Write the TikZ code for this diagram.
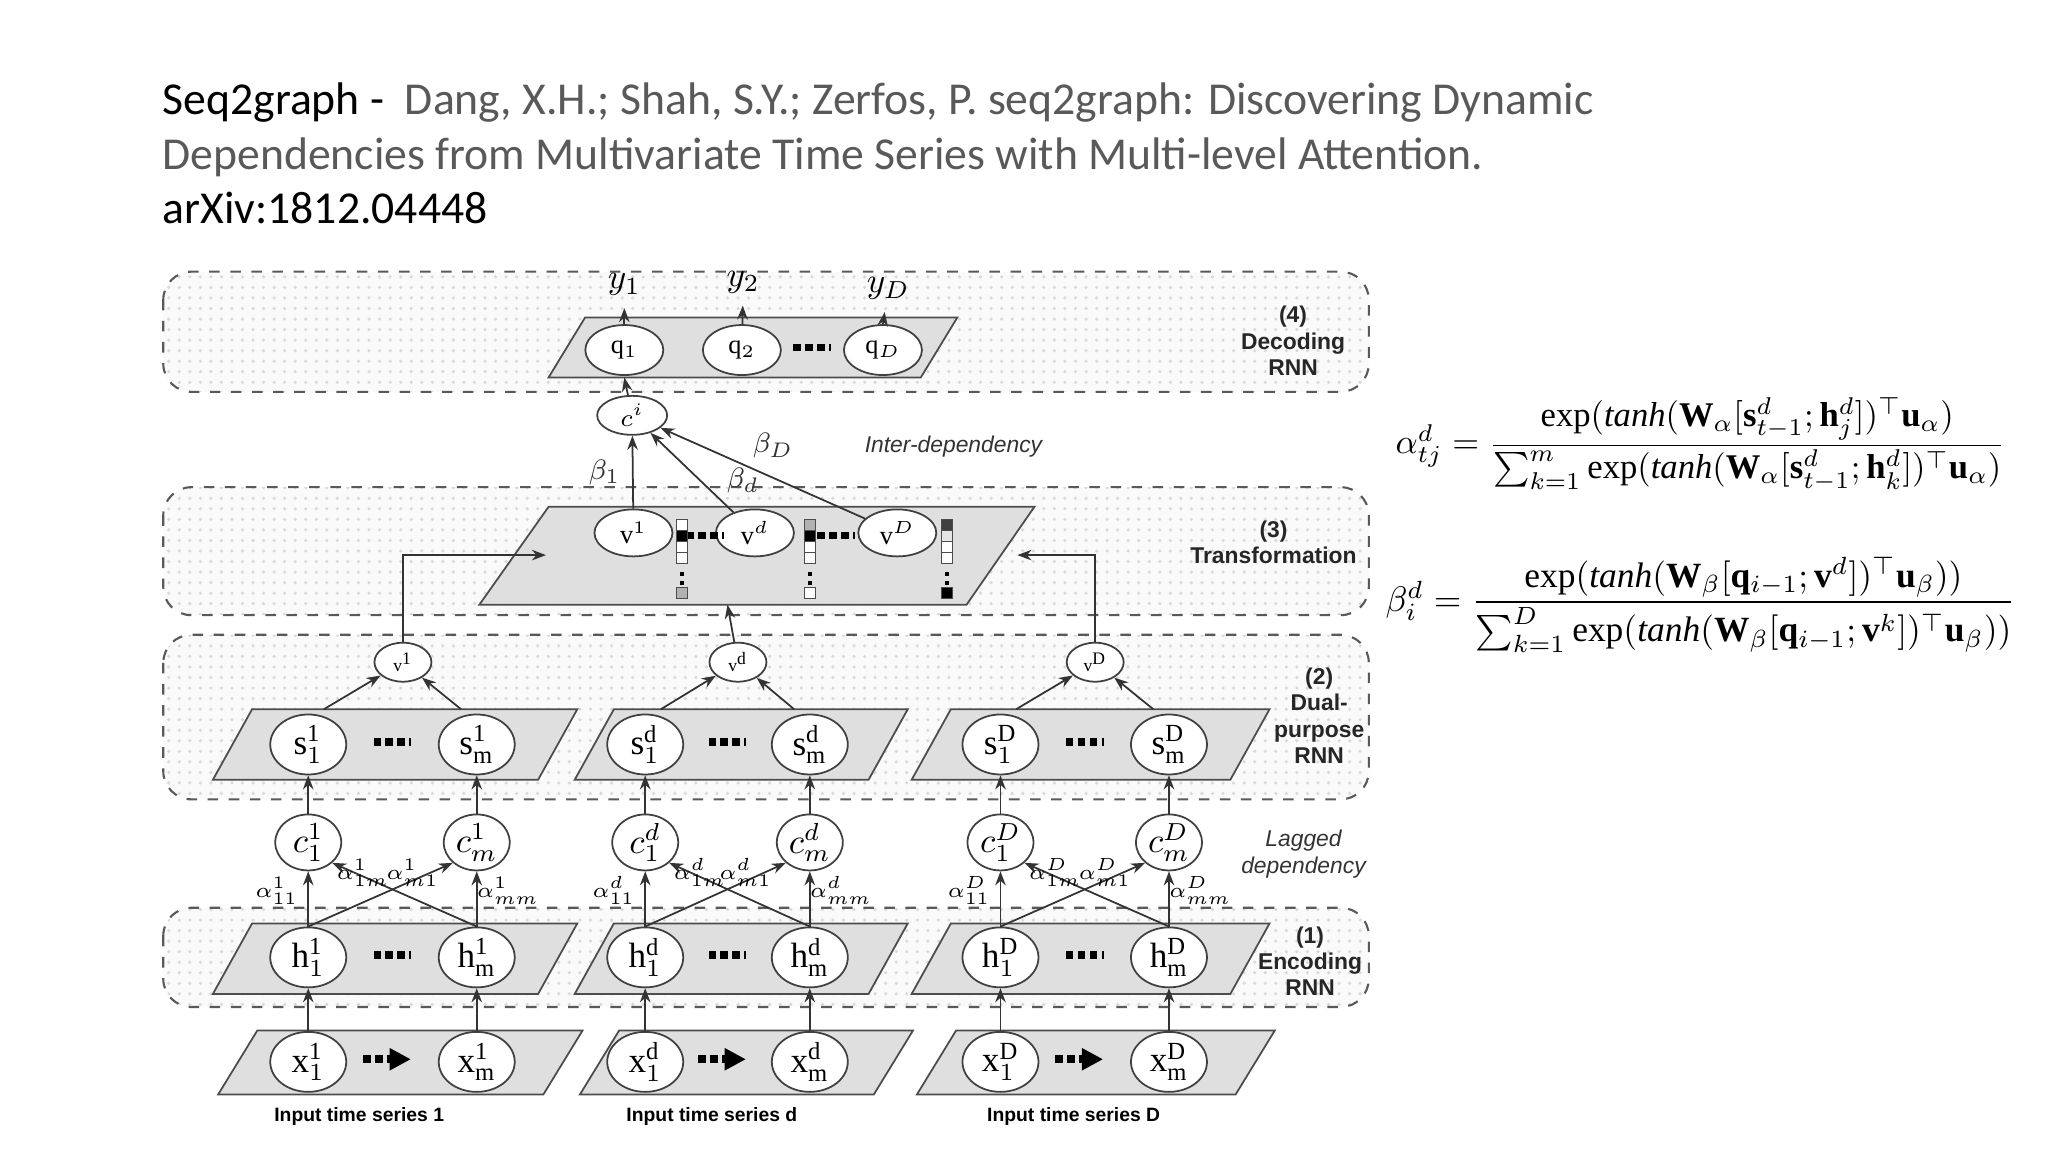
\documentclass[tikz,border=0pt]{standalone}
\usepackage{fontspec}
\usepackage{amsmath,amssymb}
\setmainfont{Liberation Serif}
\newfontfamily\titlefont{Carlito}
\setsansfont{Liberation Sans}
\usetikzlibrary{patterns,arrows.meta,shapes.geometric}
\newcommand\mydots{\rule{2.2pt}{2.2pt}\hspace{1.2pt}\rule{2.2pt}{2.2pt}\hspace{1.2pt}\rule{2.2pt}{2.2pt}\hspace{1.2pt}\rule{0.6pt}{2.2pt}}
\begin{document}
\begin{tikzpicture}[x=0.01306cm,y=-0.01306cm,
  layerbox/.style={draw=gray!70!black,dashed,rounded corners=8pt,line width=0.6pt,
     preaction={fill=gray!4},pattern=dots,pattern color=gray!30},
  plate/.style={draw=gray!60!black,fill=gray!25,line width=0.5pt},
  unit/.style={ellipse,draw=gray!50!black,fill=white,line width=0.5pt,minimum width=0.76cm,minimum height=0.6cm,inner sep=0pt,font=\fontsize{10}{10}\selectfont},
  cunit/.style={unit,minimum width=0.66cm,minimum height=0.56cm},
  sunit/.style={unit,minimum width=0.57cm,minimum height=0.39cm,font=\fontsize{5}{5}\selectfont},
  vunit/.style={unit,minimum width=0.78cm,minimum height=0.47cm,font=\fontsize{7.5}{7.5}\selectfont},
  qunit/.style={unit,minimum width=0.78cm,minimum height=0.5cm,font=\fontsize{7.5}{7.5}\selectfont},
  arr/.style={-{Stealth[length=4pt,width=3pt]},line width=0.5pt,black!80},
  lab/.style={font=\sffamily\bfseries\fontsize{6.5}{7.5}\selectfont,align=center,text=black!85},
  ilab/.style={font=\sffamily\itshape\fontsize{6.5}{7.5}\selectfont,align=center,text=black!80},
  alab/.style={font=\fontsize{6}{6}\selectfont,inner sep=1pt},
  cell/.style={draw=black!70,line width=0.3pt,minimum width=0.105cm,minimum height=0.11cm,inner sep=0pt}
]
\useasboundingbox (0,0) rectangle (1568,882);
% title
\node[anchor=north west,align=left,font=\titlefont\fontsize{13}{15.5}\selectfont,inner sep=0pt] (title) at (124,63)
 {\textcolor{black}{Seq2graph -}\textcolor{black!65}{\ \ Dang, X.H.; Shah, S.Y.; Zerfos, P. seq2graph: Discovering Dynamic}\\
  \textcolor{black!65}{Dependencies from Multivariate Time Series with Multi-level Attention.}\\
  \textcolor{black}{arXiv:1812.04448}};
% layer boxes
\path[layerbox] (125,208) rectangle (1048,300);
\path[layerbox] (125,373) rectangle (1048,471);
\path[layerbox] (125,486) rectangle (1048,612);
\path[layerbox] (125,695) rectangle (1048,771);
% right labels
\node[lab] (l4) at (990,261) {(4)\\Decoding\\RNN};
\node[lab] (l3) at (975,415) {(3)\\Transformation};
\node[lab] (l2) at (1010,548) {(2)\\Dual-\\purpose\\RNN};
\node[ilab] (lg) at (998,654) {Lagged\\dependency};
\node[lab] (l1) at (1003,736) {(1)\\Encoding\\RNN};
\node[ilab] (id) at (730,342) {Inter-dependency};
% decoding
\draw[plate] (420,289) -- (448,243) -- (733,243) -- (705,289) -- cycle;
\node[qunit] (q1) at (478,268) {$\mathrm{q}_1$};
\node[qunit] (q2) at (568,268) {$\mathrm{q}_2$};
\node[qunit] (qD) at (676,268) {$\mathrm{q}_D$};
\node (qdots) at (622,266) {\mydots};
\node[font=\fontsize{10}{10}\selectfont] (y1) at (478,218) {$y_1$};
\node[font=\fontsize{10}{10}\selectfont] (y2) at (569,216) {$y_2$};
\node[font=\fontsize{10}{10}\selectfont] (yD) at (680,221) {$y_D$};
\draw[arr] (q1) -- (y1); \draw[arr] (q2) -- (y2); \draw[arr] (qD.north) -- (yD);
\node[qunit,minimum width=0.7cm,minimum height=0.39cm] (c) at (484,318) {$c^i$};
\coordinate (cin) at (478,289);
\draw[arr] (c) -- (cin);
% transformation
\draw[plate] (367,463) -- (420,388) -- (792,388) -- (740,463) -- cycle;
\node[vunit] (V1) at (485,408) {$\mathrm{v}^1$};
\node[vunit] (Vd) at (578,408) {$\mathrm{v}^d$};
\node[vunit] (VD) at (687,408) {$\mathrm{v}^D$};
\node (vd1) at (540,410) {\mydots};
\node (vd2) at (640,410) {\mydots};
\draw[arr] (V1) -- (c) node[pos=0.5,left,font=\fontsize{8}{8}\selectfont] {$\beta_1$};
\draw[arr] (Vd) -- (c) node[pos=0.4,right=4pt,font=\fontsize{8}{8}\selectfont] {$\beta_d$};
\draw[arr] (VD) -- (c) node[pos=0.45,above=2pt,font=\fontsize{8}{8}\selectfont] {$\beta_D$};
% bars
\foreach \bx/\ca/\cb/\cc/\cd/\ce in {522/white/black/white/white/gray!60, 620/gray!60/black/white/white/white, 725/black!75/gray!20/white/white/black}{
  \node[cell,fill=\ca] at (\bx,402) {};
  \node[cell,fill=\cb] at (\bx,410.5) {};
  \node[cell,fill=\cc] at (\bx,419) {};
  \node[cell,fill=\cd] at (\bx,427.5) {};
  \fill (\bx-1.5,438) rectangle (\bx+1.5,441);
  \fill (\bx-1.5,445) rectangle (\bx+1.5,448);
  \node[cell,fill=\ce] at (\bx,454) {};
}
% groups
\foreach \g/\na/\nb/\bl/\br/\sp/\xl/\sv in {1/236/365/163/412/1/275/1, d/494/620/440/665/d/545/d, D/766/895/698/942/D/822/D}{
  \draw[plate] (\bl,597) -- (\bl+30,543) -- (\br+30,543) -- (\br,597) -- cycle;
  \draw[plate] (\bl,761) -- (\bl+30,707) -- (\br+30,707) -- (\br,761) -- cycle;
  \draw[plate] (\bl+4,838) -- (\bl+34,789) -- (\br+34,789) -- (\br+4,838) -- cycle;
  \node[unit] (s1\g) at (\na,570) {$\mathrm{s}_1^{\mathrm{\sp}}$};
  \node[unit] (sm\g) at (\nb,570) {$\mathrm{s}_{\mathrm{m}}^{\mathrm{\sp}}$};
  \node[cunit] (c1\g) at (\na,645) {$c_1^{\sp}$};
  \node[cunit] (cm\g) at (\nb,645) {$c_m^{\sp}$};
  \node[unit] (h1\g) at (\na,733) {$\mathrm{h}_1^{\mathrm{\sp}}$};
  \node[unit] (hm\g) at (\nb,733) {$\mathrm{h}_{\mathrm{m}}^{\mathrm{\sp}}$};
  \node[unit] (x1\g) at (\na,813) {$\mathrm{x}_1^{\mathrm{\sp}}$};
  \node[unit] (xm\g) at (\nb,813) {$\mathrm{x}_{\mathrm{m}}^{\mathrm{\sp}}$};
  \node (sd\g) at ({(\na+\nb)/2},568) {\mydots};
  \node (hd\g) at ({(\na+\nb)/2},731) {\mydots};
  \node[inner sep=0pt] (xd\g) at ({(\na+\nb)/2-8},811) {\mydots};
  \coordinate (xa\g) at ({(\na+\nb)/2+14},811);
  \draw[-{Triangle[length=6pt,width=6pt]},line width=1.4pt] (xd\g.east) -- (xa\g);
  \node[sunit] (v\g) at ({(\na+\nb)/2+8},507) {$\mathrm{v}^{\mathrm{\sp}}$};
  \coordinate (sa\g) at (\na+12,543);
  \coordinate (sb\g) at (\nb-12,543);
  \draw[arr] (sa\g) -- (v\g);
  \draw[arr] (sb\g) -- (v\g);
  \draw[arr] (x1\g.north) -- (h1\g); \draw[arr] (xm\g.north) -- (hm\g);
  \draw[arr] (h1\g) -- (c1\g); \draw[arr] (hm\g) -- (cm\g);
  \draw[arr] (h1\g.north) -- (cm\g.south west);
  \draw[arr] (hm\g.north) -- (c1\g.south east);
  \draw[arr] (c1\g) -- (s1\g); \draw[arr] (cm\g) -- (sm\g);
  \node[alab] at (\na-24,682) {$\alpha_{11}^{\sp}$};
  \node[alab] at (\na+42,668) {$\alpha_{1m}^{\sp}$};
  \node[alab] at (\nb-49,668) {$\alpha_{m1}^{\sp}$};
  \node[alab] at (\nb+24,682) {$\alpha_{mm}^{\sp}$};
  \node[font=\sffamily\bfseries\fontsize{5.5}{6}\selectfont] (in\g) at (\xl,855) {Input time series \sv};
}
% into transformation
\coordinate (t1) at (418,425);
\coordinate (td) at (557,463);
\coordinate (tD) at (779,425);
\draw[arr] (v1) |- (t1);
\draw[arr] (vd) -- (td);
\draw[arr] (vD) |- (tD);
% formulas
\node[anchor=center] (fa) at (1302,340) {\resizebox{6.1cm}{!}{$\alpha_{tj}^{d}=\dfrac{\exp(\mathit{tanh}(\mathbf{W}_{\alpha}[\mathbf{s}_{t-1}^{d};\mathbf{h}_{j}^{d}])^{\top}\mathbf{u}_{\alpha})}{\sum_{k=1}^{m}\exp(\mathit{tanh}(\mathbf{W}_{\alpha}[\mathbf{s}_{t-1}^{d};\mathbf{h}_{k}^{d}])^{\top}\mathbf{u}_{\alpha})}$}};
\node[anchor=center] (fb) at (1302,463) {\resizebox{6.3cm}{!}{$\beta_{i}^{d}=\dfrac{\exp(\mathit{tanh}(\mathbf{W}_{\beta}[\mathbf{q}_{i-1};\mathbf{v}^{d}])^{\top}\mathbf{u}_{\beta}))}{\sum_{k=1}^{D}\exp(\mathit{tanh}(\mathbf{W}_{\beta}[\mathbf{q}_{i-1};\mathbf{v}^{k}])^{\top}\mathbf{u}_{\beta}))}$}};
\end{tikzpicture}
\end{document}
